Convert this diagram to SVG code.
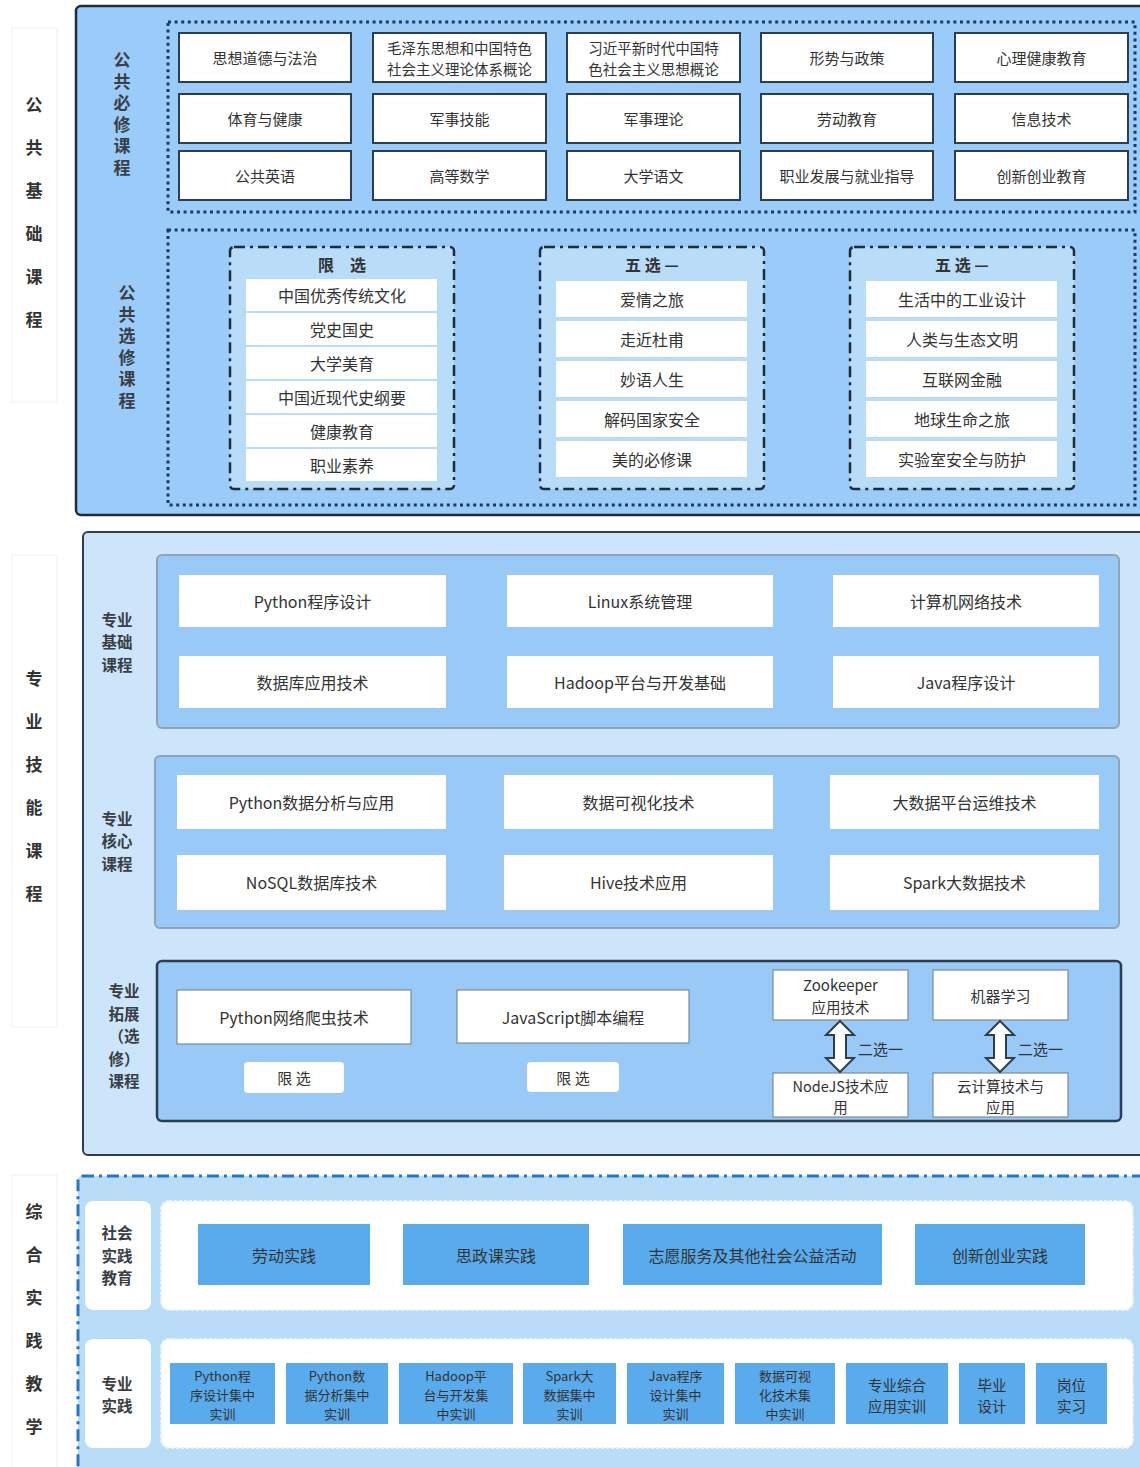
<svg xmlns="http://www.w3.org/2000/svg" width="1140" height="1467" viewBox="0 0 1140 1467">
<style>
text{font-family:"Noto Sans CJK SC","Noto Sans",sans-serif;fill:#333;dominant-baseline:central;text-anchor:middle}
.t15{font-size:15px}
.t145{font-size:14.5px}
.t13{font-size:13px}
.t16{font-size:16px}
.lbl{font-size:15.5px;font-weight:bold;fill:#3a3f45}
.vl{font-size:17px;font-weight:bold;fill:#3a3f45;writing-mode:vertical-rl;text-anchor:start;letter-spacing:4.5px}
.side{font-size:17px;font-weight:bold;fill:#333;writing-mode:vertical-rl;text-anchor:start;letter-spacing:26px}
.col{fill:#fff;stroke:#f0f0f0;stroke-width:1}
.gbox{fill:#fff;stroke:#2f3e4e;stroke-width:2}
.dot{fill:none;stroke:#1c3a62;stroke-width:3;stroke-dasharray:3 3.6}
.grp{fill:#b9dcf8;stroke:#1f2d3b;stroke-width:2.5;stroke-dasharray:11 5 3 5}
.wi{fill:#fff}
.sub{fill:#99c9f7;stroke:#8ea3b8;stroke-width:2}
.mb{fill:#fff}
.eb{fill:#fff;stroke:#7d8a98;stroke-width:1.2}
.pill{fill:#fff}
.bi{fill:#5aabeb}
.wp{fill:#fff;stroke:#e9f3fc;stroke-width:2;stroke-dasharray:3 2}
.arr{fill:#fff;stroke:#2f3e4e;stroke-width:2;stroke-linejoin:miter}
</style>

<!-- left side columns -->
<g id="side-public">
<rect class="col" x="12" y="28" width="45" height="374"/>
<text class="side" x="34" y="96.5">公共基础课程</text>
</g>
<g id="side-pro">
<rect class="col" x="12" y="555" width="45" height="472"/>
<text class="side" x="34" y="670.5">专业技能课程</text>
</g>
<g id="side-practice">
<rect class="col" x="12" y="1175" width="45" height="300"/>
<text class="side" x="34" y="1203.5">综合实践教学</text>
</g>

<!-- Section 1 -->
<g id="sec-public">
<rect x="76" y="6" width="1090" height="509" rx="5" fill="#9bcbf8" stroke="#1f2d3b" stroke-width="2.5"/>
<rect class="dot" x="168" y="22" width="967" height="190"/>
<rect class="dot" x="168" y="230" width="967" height="275"/>
<text id="lbl-required" class="vl" x="122" y="51.5">公共必修课程</text>
<text id="lbl-elective" class="vl" x="127" y="284.5">公共选修课程</text>
</g>

<g id="req-r1">
<g id="n-szdd"><rect class="gbox" x="179" y="33" width="172" height="49"/><text class="t15" x="265" y="57.5">思想道德与法治</text></g>
<g id="n-mzd"><rect class="gbox" x="373" y="33" width="173" height="49"/><text class="t145"><tspan x="459.5" y="47">毛泽东思想和中国特色</tspan><tspan x="459.5" y="68">社会主义理论体系概论</tspan></text></g>
<g id="n-xjp"><rect class="gbox" x="567" y="33" width="173" height="49"/><text class="t145"><tspan x="653.5" y="47">习近平新时代中国特</tspan><tspan x="653.5" y="68">色社会主义思想概论</tspan></text></g>
<g id="n-xszc"><rect class="gbox" x="761" y="33" width="172" height="49"/><text class="t15" x="847" y="57.5">形势与政策</text></g>
<g id="n-xljk"><rect class="gbox" x="955" y="33" width="173" height="49"/><text class="t15" x="1041.5" y="57.5">心理健康教育</text></g>
</g>
<g id="req-r2">
<g id="n-tyjk"><rect class="gbox" x="179" y="94" width="172" height="49"/><text class="t15" x="265" y="118.5">体育与健康</text></g>
<g id="n-jsjn"><rect class="gbox" x="373" y="94" width="173" height="49"/><text class="t15" x="459.5" y="118.5">军事技能</text></g>
<g id="n-jsll"><rect class="gbox" x="567" y="94" width="173" height="49"/><text class="t15" x="653.5" y="118.5">军事理论</text></g>
<g id="n-ldjy"><rect class="gbox" x="761" y="94" width="172" height="49"/><text class="t15" x="847" y="118.5">劳动教育</text></g>
<g id="n-xxjs"><rect class="gbox" x="955" y="94" width="173" height="49"/><text class="t15" x="1041.5" y="118.5">信息技术</text></g>
</g>
<g id="req-r3">
<g id="n-ggyy"><rect class="gbox" x="179" y="151" width="172" height="49"/><text class="t15" x="265" y="175.5">公共英语</text></g>
<g id="n-gdsx"><rect class="gbox" x="373" y="151" width="173" height="49"/><text class="t15" x="459.5" y="175.5">高等数学</text></g>
<g id="n-dxyw"><rect class="gbox" x="567" y="151" width="173" height="49"/><text class="t15" x="653.5" y="175.5">大学语文</text></g>
<g id="n-zyfz"><rect class="gbox" x="761" y="151" width="172" height="49"/><text class="t15" x="847" y="175.5">职业发展与就业指导</text></g>
<g id="n-cxcy"><rect class="gbox" x="955" y="151" width="173" height="49"/><text class="t15" x="1041.5" y="175.5">创新创业教育</text></g>
</g>

<g id="grp-limit">
<rect class="grp" x="230" y="247" width="224" height="242" rx="4"/>
<text class="t16" x="342" y="264" style="font-weight:bold">限　选</text>
<rect class="wi" x="246" y="279" width="191" height="32"/><text class="t16" x="342" y="295">中国优秀传统文化</text>
<rect class="wi" x="246" y="313" width="191" height="32"/><text class="t16" x="342" y="329">党史国史</text>
<rect class="wi" x="246" y="347" width="191" height="32"/><text class="t16" x="342" y="363">大学美育</text>
<rect class="wi" x="246" y="381" width="191" height="32"/><text class="t16" x="342" y="397">中国近现代史纲要</text>
<rect class="wi" x="246" y="415" width="191" height="32"/><text class="t16" x="342" y="431">健康教育</text>
<rect class="wi" x="246" y="449" width="191" height="32"/><text class="t16" x="342" y="465">职业素养</text>
</g>
<g id="grp-five-a">
<rect class="grp" x="540" y="247" width="224" height="242" rx="4"/>
<text class="t16" x="652" y="264" style="font-weight:bold">五 选 —</text>
<rect class="wi" x="556" y="281" width="191" height="36"/><text class="t16" x="652" y="299">爱情之旅</text>
<rect class="wi" x="556" y="321" width="191" height="36"/><text class="t16" x="652" y="339">走近杜甫</text>
<rect class="wi" x="556" y="361" width="191" height="36"/><text class="t16" x="652" y="379">妙语人生</text>
<rect class="wi" x="556" y="401" width="191" height="36"/><text class="t16" x="652" y="419">解码国家安全</text>
<rect class="wi" x="556" y="441" width="191" height="36"/><text class="t16" x="652" y="459">美的必修课</text>
</g>
<g id="grp-five-b">
<rect class="grp" x="850" y="247" width="224" height="242" rx="4"/>
<text class="t16" x="962" y="264" style="font-weight:bold">五 选 —</text>
<rect class="wi" x="866" y="281" width="191" height="36"/><text class="t16" x="962" y="299">生活中的工业设计</text>
<rect class="wi" x="866" y="321" width="191" height="36"/><text class="t16" x="962" y="339">人类与生态文明</text>
<rect class="wi" x="866" y="361" width="191" height="36"/><text class="t16" x="962" y="379">互联网金融</text>
<rect class="wi" x="866" y="401" width="191" height="36"/><text class="t16" x="962" y="419">地球生命之旅</text>
<rect class="wi" x="866" y="441" width="191" height="36"/><text class="t16" x="962" y="459">实验室安全与防护</text>
</g>

<!-- Section 2 -->
<g id="sec-pro">
<rect x="83" y="532" width="1080" height="623" rx="5" fill="#cde5fa" stroke="#2f3e4e" stroke-width="2"/>
<rect class="sub" x="157" y="555" width="962" height="173" rx="5"/>
<rect class="sub" x="155" y="756" width="964" height="172" rx="5"/>
<rect x="157" y="961" width="964" height="160" rx="5" fill="#99c9f7" stroke="#2f3e4e" stroke-width="2.5"/>
<text class="lbl"><tspan x="117" y="618.5">专业</tspan><tspan x="117" y="641">基础</tspan><tspan x="117" y="663.5">课程</tspan></text>
<text class="lbl"><tspan x="117" y="817.5">专业</tspan><tspan x="117" y="840">核心</tspan><tspan x="117" y="862.5">课程</tspan></text>
<text class="lbl"><tspan x="124" y="990">专业</tspan><tspan x="124" y="1012.5">拓展</tspan><tspan x="124" y="1035">（选</tspan><tspan x="124" y="1057.5">修）</tspan><tspan x="124" y="1080">课程</tspan></text>
</g>
<g id="pro-base">
<g id="n-py"><rect class="mb" x="179" y="575" width="267" height="52"/><text class="t16" x="312.5" y="601">Python程序设计</text></g>
<g id="n-linux"><rect class="mb" x="507" y="575" width="266" height="52"/><text class="t16" x="640" y="601">Linux系统管理</text></g>
<g id="n-net"><rect class="mb" x="833" y="575" width="266" height="52"/><text class="t16" x="966" y="601">计算机网络技术</text></g>
<g id="n-db"><rect class="mb" x="179" y="656" width="267" height="52"/><text class="t16" x="312.5" y="682">数据库应用技术</text></g>
<g id="n-hadoop"><rect class="mb" x="507" y="656" width="266" height="52"/><text class="t16" x="640" y="682">Hadoop平台与开发基础</text></g>
<g id="n-java"><rect class="mb" x="833" y="656" width="266" height="52"/><text class="t16" x="966" y="682">Java程序设计</text></g>
</g>
<g id="pro-core">
<g id="n-pyda"><rect class="mb" x="177" y="775" width="269" height="54"/><text class="t16" x="311.5" y="802">Python数据分析与应用</text></g>
<g id="n-vis"><rect class="mb" x="504" y="775" width="269" height="54"/><text class="t16" x="638.5" y="802">数据可视化技术</text></g>
<g id="n-ops"><rect class="mb" x="830" y="775" width="269" height="54"/><text class="t16" x="964.5" y="802">大数据平台运维技术</text></g>
<g id="n-nosql"><rect class="mb" x="177" y="855" width="269" height="55"/><text class="t16" x="311.5" y="882">NoSQL数据库技术</text></g>
<g id="n-hive"><rect class="mb" x="504" y="855" width="269" height="55"/><text class="t16" x="638.5" y="882">Hive技术应用</text></g>
<g id="n-spark"><rect class="mb" x="830" y="855" width="269" height="55"/><text class="t16" x="964.5" y="882">Spark大数据技术</text></g>
</g>
<g id="pro-ext">
<g id="n-crawl"><rect class="eb" x="177" y="990" width="234" height="54"/><text class="t16" x="294" y="1017">Python网络爬虫技术</text></g>
<g id="n-crawl-tag"><rect class="pill" x="244" y="1062" width="100" height="31" rx="4"/><text class="t15" x="294" y="1077">限 选</text></g>
<g id="n-js"><rect class="eb" x="457" y="990" width="232" height="53"/><text class="t16" x="573" y="1017">JavaScript脚本编程</text></g>
<g id="n-js-tag"><rect class="pill" x="527" y="1062" width="92" height="30" rx="4"/><text class="t15" x="573" y="1077">限 选</text></g>
<g id="n-zk"><rect class="eb" x="773" y="970" width="135" height="50"/><text class="t145"><tspan x="840.5" y="984" style="font-size:15px">Zookeeper</tspan><tspan x="840.5" y="1006">应用技术</tspan></text></g>
<g id="n-node"><rect class="eb" x="773" y="1073" width="135" height="44"/><text class="t145"><tspan x="840.5" y="1085">NodeJS技术应</tspan><tspan x="840.5" y="1106">用</tspan></text></g>
<g id="n-ml"><rect class="eb" x="933" y="970" width="135" height="50"/><text class="t15" x="1000.5" y="995">机器学习</text></g>
<g id="n-cloud"><rect class="eb" x="933" y="1073" width="135" height="44"/><text class="t145"><tspan x="1000.5" y="1085">云计算技术与</tspan><tspan x="1000.5" y="1106">应用</tspan></text></g>
</g>
<g id="connectors">
<path class="arr" d="M840,1021 L854,1035 L846,1035 L846,1058 L854,1058 L840,1072 L826,1058 L834,1058 L834,1035 L826,1035 Z"/>
<path class="arr" d="M1000,1021 L1014,1035 L1006,1035 L1006,1058 L1014,1058 L1000,1072 L986,1058 L994,1058 L994,1035 L986,1035 Z"/>
<text class="t15" x="858" y="1048" style="text-anchor:start">二选一</text>
<text class="t15" x="1018" y="1048" style="text-anchor:start">二选一</text>
</g>

<!-- Section 3 -->
<g id="sec-practice">
<rect x="78" y="1176" width="1090" height="310" rx="4" fill="#b9dcf7" stroke="#2a75cc" stroke-width="3" stroke-dasharray="12 5 3 5"/>
<rect class="wi" x="85" y="1201" width="66" height="109" rx="8"/>
<text class="lbl"><tspan x="117" y="1232">社会</tspan><tspan x="117" y="1254.5">实践</tspan><tspan x="117" y="1277">教育</tspan></text>
<rect class="wp" x="161" y="1201" width="972" height="109" rx="8"/>
<rect class="wi" x="85" y="1339" width="66" height="109" rx="8"/>
<text class="lbl"><tspan x="117" y="1382.5">专业</tspan><tspan x="117" y="1405">实践</tspan></text>
<rect class="wp" x="161" y="1339" width="972" height="109" rx="8"/>
</g>
<g id="prac-social">
<g id="n-ldsj"><rect class="bi" x="198" y="1224" width="172" height="61"/><text class="t16" x="284" y="1255">劳动实践</text></g>
<g id="n-szk"><rect class="bi" x="403" y="1224" width="186" height="61"/><text class="t16" x="496" y="1255">思政课实践</text></g>
<g id="n-zyfw"><rect class="bi" x="623" y="1224" width="259" height="61"/><text class="t16" x="752.5" y="1255">志愿服务及其他社会公益活动</text></g>
<g id="n-cxsj"><rect class="bi" x="915" y="1224" width="170" height="61"/><text class="t16" x="1000" y="1255">创新创业实践</text></g>
</g>
<g id="prac-pro">
<g id="p1"><rect class="bi" x="170" y="1363" width="105" height="61"/><text class="t13"><tspan x="222.5" y="1375">Python程</tspan><tspan x="222.5" y="1394">序设计集中</tspan><tspan x="222.5" y="1413">实训</tspan></text></g>
<g id="p2"><rect class="bi" x="286" y="1363" width="102" height="61"/><text class="t13"><tspan x="337" y="1375">Python数</tspan><tspan x="337" y="1394">据分析集中</tspan><tspan x="337" y="1413">实训</tspan></text></g>
<g id="p3"><rect class="bi" x="399" y="1363" width="114" height="61"/><text class="t13"><tspan x="456" y="1375">Hadoop平</tspan><tspan x="456" y="1394">台与开发集</tspan><tspan x="456" y="1413">中实训</tspan></text></g>
<g id="p4"><rect class="bi" x="523" y="1363" width="93" height="61"/><text class="t13"><tspan x="569.5" y="1375">Spark大</tspan><tspan x="569.5" y="1394">数据集中</tspan><tspan x="569.5" y="1413">实训</tspan></text></g>
<g id="p5"><rect class="bi" x="627" y="1363" width="97" height="61"/><text class="t13"><tspan x="675.5" y="1375">Java程序</tspan><tspan x="675.5" y="1394">设计集中</tspan><tspan x="675.5" y="1413">实训</tspan></text></g>
<g id="p6"><rect class="bi" x="735" y="1363" width="100" height="61"/><text class="t13"><tspan x="785" y="1375">数据可视</tspan><tspan x="785" y="1394">化技术集</tspan><tspan x="785" y="1413">中实训</tspan></text></g>
<g id="p7"><rect class="bi" x="846" y="1363" width="102" height="61"/><text class="t145"><tspan x="897" y="1384">专业综合</tspan><tspan x="897" y="1405">应用实训</tspan></text></g>
<g id="p8"><rect class="bi" x="959" y="1363" width="66" height="61"/><text class="t145"><tspan x="992" y="1384">毕业</tspan><tspan x="992" y="1405">设计</tspan></text></g>
<g id="p9"><rect class="bi" x="1036" y="1363" width="71" height="61"/><text class="t145"><tspan x="1071.5" y="1384">岗位</tspan><tspan x="1071.5" y="1405">实习</tspan></text></g>
</g>
</svg>
